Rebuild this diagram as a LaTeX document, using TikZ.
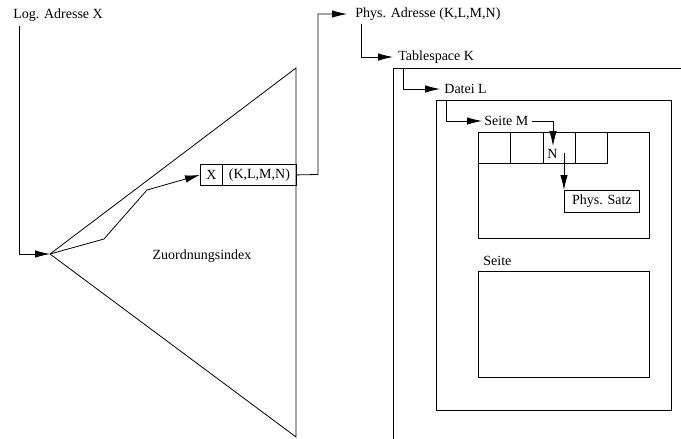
\documentclass[tikz,border=0pt]{standalone}
\usepackage{fontspec}
\setmainfont{Liberation Serif}
\usetikzlibrary{arrows.meta}
\begin{document}
\begin{tikzpicture}[x=1pt,y=-1pt, line width=0.8pt,
  lbl/.style={inner sep=0pt, anchor=west, font=\fontsize{14}{16}\selectfont},
  arr/.style={-{Latex[length=15pt,width=7.5pt]}},
  boxn/.style={draw, inner sep=0pt, anchor=north west, font=\fontsize{14}{16}\selectfont}]
\useasboundingbox (0,0) rectangle (681,439);
% labels
\node[lbl] (log) at (13,15) {Log. Adresse X};
\node[lbl] (phys) at (355,14) {Phys. Adresse (K,L,M,N)};
\node[lbl] (ts) at (398,57) {Tablespace K};
\node[lbl] (dat) at (444,89) {Datei L};
\node[lbl] (sm) at (484,121) {Seite M};
\node[lbl] (se) at (483,261) {Seite};
\node[lbl, anchor=center] (zu) at (202,256) {Zuordnungsindex};
% triangle (Zuordnungsindex)
\coordinate (apex) at (50,254);
\coordinate (tt) at (296,68);
\coordinate (tb) at (296,437);
\draw (apex) -- (tt) -- (tb) -- cycle;
% index entry
\node[boxn, minimum width=22, minimum height=21] (bx) at (200,164) {X};
\node[boxn, minimum width=74, minimum height=21] (bk) at (222,164) {(K,L,M,N)};
% connectors
\coordinate (l1) at (19,26);
\draw[arr] (l1) |- (apex);
\coordinate (p1) at (104,239);
\coordinate (p2) at (147,190);
\draw[arr] (apex) -- (p1) -- (p2) -- (bx.west);
\coordinate (q1) at (318,174.5);
\coordinate (q2) at (347,14);
\draw[arr] (bk.east) -- (q1) |- (q2);
\coordinate (t1) at (361,24);
\coordinate (t2) at (393,57);
\draw[arr] (t1) |- (t2);
% tablespace frame
\coordinate (tsa) at (681,68);
\coordinate (tsb) at (393,68);
\coordinate (tsc) at (393,439);
\draw (tsa) -- (tsb) -- (tsc);
\coordinate (d1) at (403,68);
\coordinate (d2) at (440,89);
\draw[arr] (d1) |- (d2);
% Datei box
\node[boxn, minimum width=235, minimum height=310] (datei) at (436,100) {};
\coordinate (s1) at (446,100);
\coordinate (s2) at (482,121);
\draw[arr] (s1) |- (s2);
% Seite M box
\node[boxn, minimum width=171, minimum height=106] (seitem) at (478,132) {};
\foreach \i in {0,1,2,3}{
  \node[boxn, minimum width=32.25, minimum height=31] (c\i) at (478+32.25*\i,132) {};
}
\node[lbl, anchor=center] (nn) at (552.5,154) {N};
\coordinate (m1) at ([xshift=3pt]sm.east);
\coordinate (m2) at (553,121);
\coordinate (m3) at (553,146);
\draw[arr] (m1) -- (m2) -- (m3);
% Phys. Satz
\node[boxn, minimum width=75, minimum height=22] (satz) at (564,190) {Phys. Satz};
\coordinate (n1) at (564,153);
\draw[arr] (n1) -- (satz.north west);
% Seite box
\node[boxn, minimum width=171, minimum height=106] (seite) at (478,271) {};
\end{tikzpicture}
\end{document}
